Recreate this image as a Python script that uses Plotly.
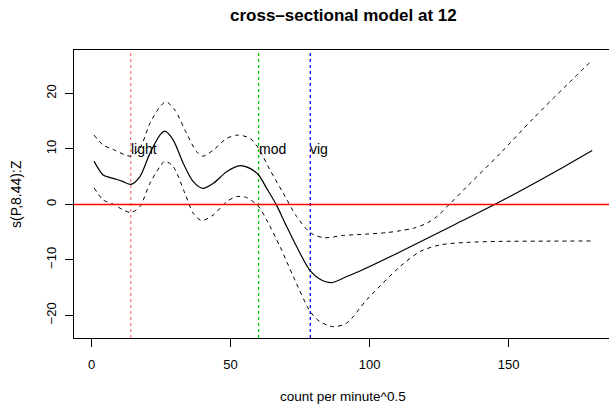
import plotly.graph_objects as go

# ---- data ----
fit_x = [0.9, 4.2, 7.8, 11.0, 14.2, 17.4, 21.0, 24.6, 26.4, 29.4, 33.0, 36.6, 40.0, 43.8, 48.6,
         53.4, 57.0, 60.1, 63.0, 66.4, 70.2, 75.0, 78.7, 82.2, 86.4, 91.8, 96.6, 110, 130, 150, 170, 180.1]
fit_y = [7.8, 5.3, 4.7, 4.2, 3.6, 5.0, 9.2, 12.5, 13.2, 11.6, 7.4, 4.1, 2.9, 3.8, 5.9,
         7.0, 6.5, 5.3, 2.9, 0.0, -4.0, -8.8, -12.0, -13.5, -14.1, -13.0, -12.0, -8.8, -3.8, 1.3, 6.8, 9.7]

up_x = [0.9, 4.2, 7.8, 14.2, 17.4, 21.0, 24.6, 26.8, 30.0, 34.2, 37.8, 40.0, 43.8, 48.6, 52.8,
        57.0, 60.1, 64.2, 69.0, 73.8, 78.7, 83.4, 90.6, 99, 106, 111, 115.8, 120.6, 124.2, 128.7, 135, 147,
        158.9, 170.9, 180.1]
up_y = [12.5, 10.7, 9.9, 8.7, 10.1, 14.6, 17.6, 18.5, 17.0, 12.8, 9.5, 8.7, 9.8, 11.9, 12.5,
        11.9, 10.1, 6.2, 2.0, -2.2, -5.1, -6.0, -5.6, -5.35, -5.1, -4.75, -4.3, -3.4, -2.2, 0.0, 3.2, 9.2,
        15.5, 21.5, 26.0]

lo_x = [0.9, 4.2, 7.8, 11.4, 14.2, 17.4, 21.0, 24.6, 26.4, 29.4, 33.6, 36.6, 39.6, 43.8, 48.6,
        52.2, 55.8, 60.1, 63.0, 67.8, 72.6, 78.7, 82.2, 87.0, 91.8, 99, 111, 118.2, 125.4, 135,
        147, 165, 180.1]
lo_y = [3.0, 0.8, 0.05, -1.0, -1.45, -0.4, 3.8, 6.8, 7.8, 6.8, 2.0, -1.6, -2.9, -1.9, 0.5,
        1.4, 1.25, -0.4, -2.8, -7.6, -13.0, -19.35, -21.15, -22.05, -21.4, -17.2, -11.2, -8.5, -7.3, -6.85,
        -6.67, -6.62, -6.6]

cut_x = [14.1, 60.1, 78.7]
cut_labels = ["light", "mod", "vig"]
cut_colors = ["#ff8080", "#00cc00", "#0000ff"]
label_y = 10

x_ticks = [0, 50, 100, 150]
y_ticks = [-20, -10, 0, 10, 20]

FONT = "Liberation Sans, Arial, Helvetica, sans-serif"

fig = go.Figure()

# vertical cut lines
for cx, col in zip(cut_x, cut_colors):
    fig.add_shape(type="line", xref="x", yref="paper", x0=cx, x1=cx, y0=0, y1=1,
                  line=dict(color=col, width=1.3, dash="3px,3px"), layer="below")

# zero line
fig.add_shape(type="line", xref="paper", yref="y", x0=0, x1=1, y0=0, y1=0,
              line=dict(color="#ff0000", width=1.5))

fig.add_trace(go.Scatter(x=up_x, y=up_y, mode="lines", line=dict(color="black", width=1, dash="4px,4px", shape="spline", smoothing=0.8), showlegend=False))
fig.add_trace(go.Scatter(x=lo_x, y=lo_y, mode="lines", line=dict(color="black", width=1, dash="4px,4px", shape="spline", smoothing=0.8), showlegend=False))
fig.add_trace(go.Scatter(x=fit_x, y=fit_y, mode="lines", line=dict(color="black", width=1.2, shape="spline", smoothing=0.8), showlegend=False))

for cx, lab in zip(cut_x, cut_labels):
    fig.add_annotation(x=cx, y=label_y, xref="x", yref="y", text=lab, showarrow=False,
                       xanchor="left", yanchor="middle", xshift=-2,
                       font=dict(family=FONT, size=14, color="black"))

# titles
fig.add_annotation(text="<b>cross\u2013sectional model at 12</b>", xref="paper", yref="paper",
                   x=(343 - 74) / 535, y=1 + (50 - 15) / 288, showarrow=False,
                   xanchor="center", yanchor="middle", font=dict(family=FONT, size=17, color="black"))
fig.add_annotation(text="count per minute^0.5", xref="paper", yref="paper",
                   x=(343 - 74) / 535, y=-(396 - 338) / 288, showarrow=False,
                   xanchor="center", yanchor="middle", font=dict(family=FONT, size=13.5, color="black"))
fig.add_annotation(text="s(P,8.44):Z", xref="paper", yref="paper", textangle=-90,
                   x=-(74 - 16) / 535, y=(338 - 194) / 288, showarrow=False,
                   xanchor="center", yanchor="middle", font=dict(family=FONT, size=14, color="black"))

fig.update_layout(
    width=609, height=406,
    margin=dict(l=74, r=0, t=50, b=68),
    paper_bgcolor="white", plot_bgcolor="white",
    font=dict(family=FONT, size=13, color="black"),
    showlegend=False,
)
fig.update_xaxes(range=[-6.3, 186.15], tickvals=x_ticks, ticks="outside", ticklen=8, tickcolor="black",
                 showline=True, linecolor="black", linewidth=1, mirror=True, showgrid=False,
                 zeroline=False, ticklabelstandoff=6, tickfont=dict(size=13))
fig.update_yaxes(range=[-24.09, 27.84], tickvals=y_ticks, ticks="outside", ticklen=8, tickcolor="black",
                 showline=True, linecolor="black", linewidth=1, mirror=False, showgrid=False,
                 zeroline=False, tickangle=-90, ticklabelstandoff=4, tickfont=dict(size=13),
                 tickformat="d")

fig.write_html("out.html")
